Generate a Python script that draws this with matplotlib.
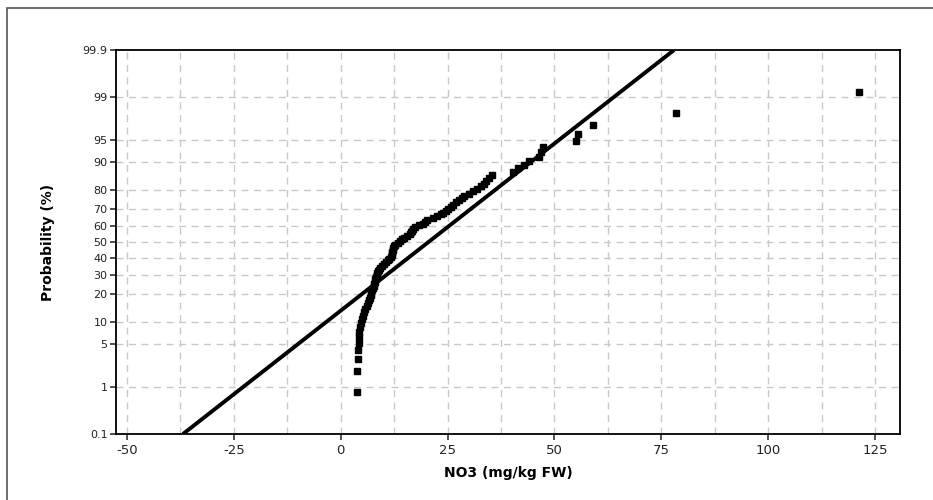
import matplotlib
matplotlib.use("Agg")
import matplotlib.pyplot as plt
from matplotlib.patches import Rectangle
from statistics import NormalDist
import numpy as np

no3_values = [3.8, 3.9, 4.0, 4.1, 4.2, 4.3, 4.4, 4.5, 4.7, 5.0,
              5.2, 5.5, 5.8, 6.1, 6.4, 6.6, 6.8, 7.0, 7.2, 7.4,
              7.6, 7.7, 7.9, 8.0, 8.1, 8.2, 8.4, 8.5, 8.7, 8.9,
              9.2, 9.6, 10.2, 10.7, 11.1, 11.4, 11.7, 11.9, 12.0, 12.1,
              12.2, 12.3, 12.5, 12.8, 13.3, 13.9, 14.4, 14.9, 15.5, 16.1,
              16.4, 16.7, 16.9, 17.5, 18.4, 19.2, 19.8, 20.3, 21.5, 22.5,
              23.4, 24.0, 24.6, 25.2, 25.7, 26.2, 26.9, 27.6, 28.4, 28.9,
              30.1, 31.0, 31.9, 32.8, 33.5, 34.1, 34.8, 35.5, 40.3, 41.5,
              43.0, 44.0, 46.3, 46.8, 47.3, 55.0, 55.5, 59.0, 78.5, 121.3]

# Fitted normal line parameters
fit_mean = 20.55
fit_sd = 18.59

prob_ticks = [0.1, 1, 5, 10, 20, 30, 40, 50, 60, 70, 80, 90, 95, 99, 99.9]
prob_labels = ["0.1", "1", "5", "10", "20", "30", "40", "50", "60", "70", "80", "90", "95", "99", "99.9"]
x_ticks = [-50, -25, 0, 25, 50, 75, 100, 125]
x_label = "NO3 (mg/kg FW)"
y_label = "Probability (%)"

nd = NormalDist()
n = len(no3_values)
ranks = np.arange(1, n + 1)
pp = (ranks - 0.3) / (n + 0.4)
z_pts = [nd.inv_cdf(p) for p in pp]
z_ticks = [nd.inv_cdf(p / 100.0) for p in prob_ticks]

fig = plt.figure(figsize=(9.33, 5.0), dpi=100)
ax = fig.add_axes([116 / 933, 1 - 434 / 500, (900 - 116) / 933, (434 - 50) / 500])

zlo, zhi = z_ticks[0], z_ticks[-1]
ax.set_ylim(zlo, zhi)
ax.set_xlim(-52.57, 130.86)

# grid
grid_kw = dict(color="#c8c8c8", lw=1.0, dashes=(5, 4), zorder=0)
for xv in np.arange(-50, 125.1, 12.5):
    ax.axvline(xv, **grid_kw)
for zt in z_ticks[1:-1]:
    ax.axhline(zt, **grid_kw)

# fitted line
zl = np.array([zlo, zhi])
ax.plot(fit_mean + fit_sd * zl, zl, color="black", lw=2.8, zorder=2,
        solid_capstyle="butt")

# data points
ax.plot(no3_values, z_pts, linestyle="none", marker="s", markersize=4.8,
        color="black", zorder=3)

ax.set_yticks(z_ticks)
ax.set_yticklabels(prob_labels)
ax.set_xticks(x_ticks)
ax.set_xticklabels([str(v) for v in x_ticks])
ax.tick_params(axis="both", direction="out", length=4, width=1.2,
               color="#333333", labelcolor="#222222")
ax.tick_params(axis="x", labelsize=9.5, pad=3)
ax.tick_params(axis="y", labelsize=8, pad=2)
for s in ax.spines.values():
    s.set_linewidth(1.3)
    s.set_color("black")

ax.set_xlabel(x_label, fontsize=10, fontweight="bold", labelpad=7)
ax.set_ylabel(y_label, fontsize=10, fontweight="bold", labelpad=20)

# outer frame
fig.patches.append(Rectangle((7 / 933, -0.1), 1.2, 1 - 8 / 500 + 0.1,
                             transform=fig.transFigure, fill=False,
                             edgecolor="#555555", lw=1.2))

fig.savefig("out.png", dpi=100)
